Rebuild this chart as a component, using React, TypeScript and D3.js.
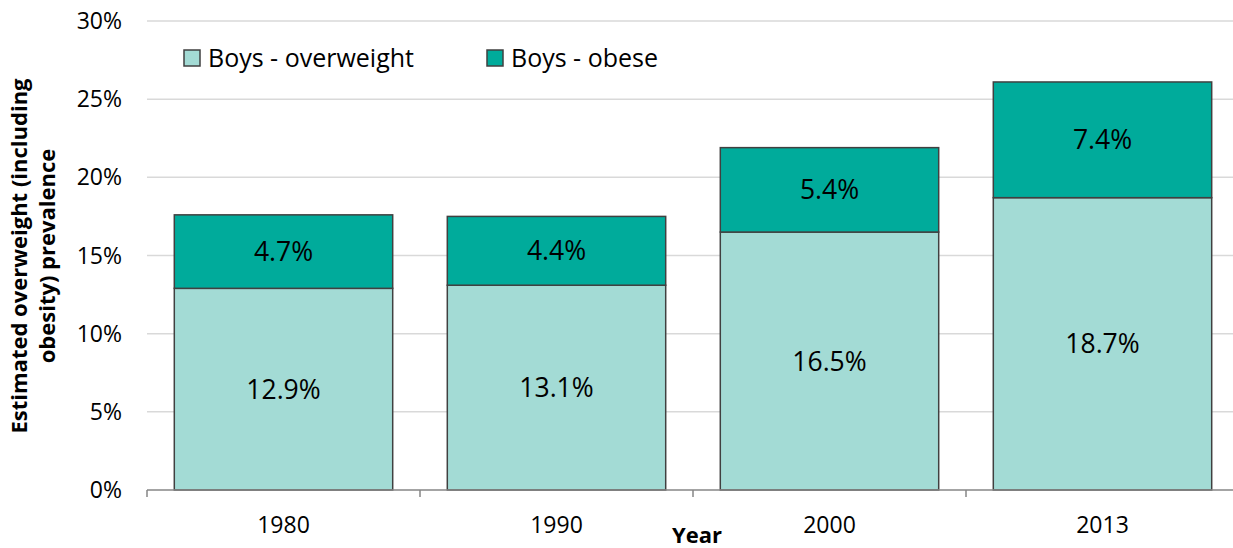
import { useEffect, useRef } from "react";
import * as d3 from "d3";

const years = ["1980", "1990", "2000", "2013"];
const overweight = [12.9, 13.1, 16.5, 18.7];
const obese = [4.7, 4.4, 5.4, 7.4];
const yTicks = [0, 5, 10, 15, 20, 25, 30];
const seriesNames = ["Boys - overweight", "Boys - obese"];
const colors = ["#a3dbd5", "#00ab9b"];

const W = 1233;
const H = 548;
const M = { top: 21, right: -6, bottom: 58, left: 147 };
const FONT = "'Open Sans', 'Noto Sans', sans-serif";

export default function App() {
  const svgRef = useRef<SVGSVGElement | null>(null);

  useEffect(() => {
    const el = svgRef.current;
    if (!el) return;
    d3.select(el).selectAll("*").remove();
    const svg = d3.select(el);

    const x = d3.scaleBand().domain(years).range([M.left, W - M.right]).paddingInner(0.2).paddingOuter(0.1);
    const xTickScale = d3.scaleBand().domain(years).range([M.left, W - M.right]);
    const y = d3.scaleLinear().domain([0, 30]).range([H - M.bottom, M.top]);

    // Grid lines
    svg.append("g").selectAll("line").data(yTicks.filter(t => t > 0)).join("line")
      .attr("x1", M.left).attr("x2", W - M.right)
      .attr("y1", d => y(d)).attr("y2", d => y(d))
      .attr("stroke", "#d9d9d9").attr("stroke-width", 1.5);

    // y tick labels
    svg.append("g").selectAll("text").data(yTicks).join("text")
      .attr("x", 122).attr("y", d => y(d) + 8)
      .attr("text-anchor", "end")
      .attr("font-family", FONT).attr("font-size", 23).attr("fill", "#000")
      .text(d => `${d}%`);

    // Stacked bars
    const stacked = years.map((yr, i) => ({
      yr,
      segs: [
        { v0: 0, v1: overweight[i], val: overweight[i], c: colors[0] },
        { v0: overweight[i], v1: overweight[i] + obese[i], val: obese[i], c: colors[1] },
      ],
    }));

    const g = svg.append("g");
    stacked.forEach(d => {
      d.segs.forEach(s => {
        g.append("rect")
          .attr("x", x(d.yr)!).attr("width", x.bandwidth())
          .attr("y", y(s.v1)).attr("height", y(s.v0) - y(s.v1))
          .attr("fill", s.c).attr("stroke", "#404040").attr("stroke-width", 1.5);
        g.append("text")
          .attr("x", x(d.yr)! + x.bandwidth() / 2)
          .attr("y", (y(s.v0) + y(s.v1)) / 2 + 9.5)
          .attr("text-anchor", "middle")
          .attr("font-family", FONT).attr("font-size", 26.5).attr("fill", "#000")
          .text(`${s.val.toFixed(1)}%`);
      });
    });

    // x axis
    const base = y(0);
    svg.append("line").attr("x1", M.left).attr("x2", W - M.right)
      .attr("y1", base).attr("y2", base).attr("stroke", "#868686").attr("stroke-width", 1.5);
    const tickXs = years.map(yr => xTickScale(yr)!).concat([xTickScale.range()[1]]);
    svg.append("g").selectAll("line").data(tickXs).join("line")
      .attr("x1", d => d).attr("x2", d => d)
      .attr("y1", base).attr("y2", base + 7)
      .attr("stroke", "#868686").attr("stroke-width", 1.5);
    svg.append("g").selectAll("text").data(years).join("text")
      .attr("x", d => xTickScale(d)! + xTickScale.bandwidth() / 2)
      .attr("y", 533)
      .attr("text-anchor", "middle")
      .attr("font-family", FONT).attr("font-size", 23).attr("fill", "#000")
      .text(d => d);

    // axis titles
    svg.append("text").attr("x", 697).attr("y", 543)
      .attr("text-anchor", "middle").attr("font-family", FONT)
      .attr("font-size", 22).attr("font-weight", "bold").text("Year");

    const yt = svg.append("g").attr("transform", "translate(0,256) rotate(-90)");
    yt.append("text").attr("x", 0).attr("y", 27)
      .attr("text-anchor", "middle").attr("font-family", FONT)
      .attr("font-size", 22).attr("font-weight", "bold").text("Estimated overweight (including");
    yt.append("text").attr("x", 0).attr("y", 55)
      .attr("text-anchor", "middle").attr("font-family", FONT)
      .attr("font-size", 22).attr("font-weight", "bold").text("obesity) prevalence");

    // Legend
    const legX = [184, 487];
    seriesNames.forEach((name, i) => {
      svg.append("rect").attr("x", legX[i]).attr("y", 50).attr("width", 16).attr("height", 16)
        .attr("fill", colors[i]).attr("stroke", "#404040").attr("stroke-width", 1.5);
      svg.append("text").attr("x", legX[i] + 24).attr("y", 67)
        .attr("font-family", FONT).attr("font-size", 25).attr("fill", "#000").text(name);
    });
  }, []);

  return (
    <svg ref={svgRef} width={W} height={H}
      style={{ position: "absolute", left: 0, top: 0, background: "#fff", display: "block" }} />
  );
}
